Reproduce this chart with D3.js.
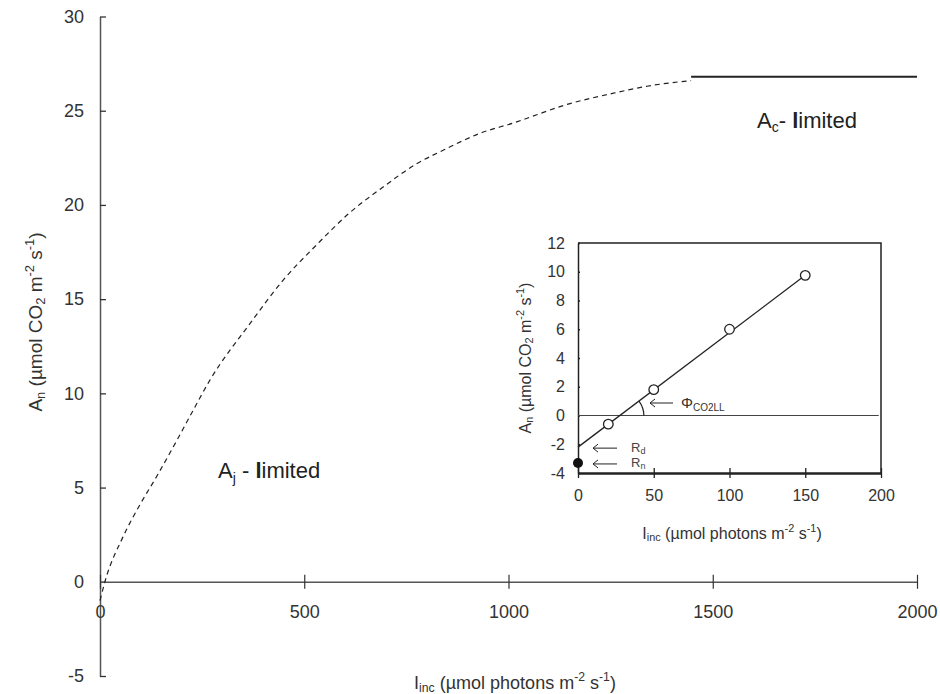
<!DOCTYPE html>
<html>
<head>
<meta charset="utf-8">
<script src="https://cdn.jsdelivr.net/npm/d3@7"></script>
<style>
  body { margin: 0; background: #fff; }
  svg { font-family: "Liberation Sans", Arial, sans-serif; }
</style>
</head>
<body>
<svg id="chart" width="940" height="694"></svg>
<script>
// main light-response curve (A_j limited part, dashed)
const curveI = [0, 12, 56, 98, 139, 188, 228, 269, 367, 448, 531, 612, 693, 776, 840, 930, 1012, 1146, 1257, 1339, 1447];
const curveA = [-1.0, 0, 2.37, 4.1, 5.6, 7.5, 9.1, 10.7, 13.7, 16.0, 17.9, 19.6, 20.95, 22.2, 22.9, 23.8, 24.35, 25.35, 25.93, 26.3, 26.6];
// A_c limited plateau
const plateauI = [1447, 2000];
const plateauA = [26.8, 26.8];

const mainXTicks = [0, 500, 1000, 1500, 2000];
const mainYTicks = [-5, 0, 5, 10, 15, 20, 25, 30];

// inset: low-light measurements
const insetI = [20, 50, 100, 150];
const insetA = [-0.6, 1.8, 6.0, 9.75];
const darkI = [0];
const darkA = [-3.3];
const fitI = [0, 150];
const fitA = [-2.2, 9.75];
const insetXTicks = [0, 50, 100, 150, 200];
const insetYTicks = [-4, -2, 0, 2, 4, 6, 8, 10, 12];

const svg = d3.select("#chart");
const ink = "#333";
const plain = (d) => String(d);

// text with sub/superscripts
function richText(sel, parts, size) {
  let shift = 0;
  parts.forEach((p) => {
    let want = 0, fs = size, txt = p.t;
    if (p.sub) { want = size * 0.15; fs = size * 0.68; txt = p.sub; }
    if (p.sup) { want = -size * 0.42; fs = size * 0.68; txt = p.sup; }
    sel.append("tspan").attr("font-size", fs).attr("dy", want - shift).text(txt);
    shift = want;
  });
  return sel;
}

const anLabel = [{ t: "A" }, { sub: "n" }, { t: " (\u00b5mol CO" }, { sub: "2" }, { t: " m" }, { sup: "-2" }, { t: " s" }, { sup: "-1" }, { t: ")" }];
const incLabel = [{ t: "I" }, { sub: "inc" }, { t: " (\u00b5mol photons m" }, { sup: "-2" }, { t: " s" }, { sup: "-1" }, { t: ")" }];

// ---------- main chart ----------
const x = d3.scaleLinear().domain([0, 2000]).range([100, 917]);
const y = d3.scaleLinear().domain([-5, 30]).range([676, 16.5]);

const yAxis = d3.axisLeft(y).tickValues(mainYTicks).tickFormat(plain).tickSizeInner(6).tickSizeOuter(0).tickPadding(10);
const gy = svg.append("g").attr("transform", `translate(${x(0)},0)`).call(yAxis);
gy.selectAll(".tick line").attr("x2", 6);
gy.select(".domain").attr("stroke", "#555").attr("stroke-width", 1.5);
gy.selectAll(".tick line").attr("stroke", "#333").attr("stroke-width", 1.3);
gy.selectAll("text").attr("font-size", 18).attr("fill", ink).attr("font-family", "Liberation Sans");

const xAxis = d3.axisBottom(x).tickValues(mainXTicks).tickFormat(plain).tickSizeInner(7).tickSizeOuter(0).tickPadding(16);
const gx = svg.append("g").attr("transform", `translate(0,${y(0)})`).call(xAxis);
gx.selectAll(".tick line").attr("y1", -7).attr("stroke", "#333").attr("stroke-width", 1.2);
gx.select(".domain").attr("stroke", "#555").attr("stroke-width", 1.5);
gx.selectAll("text").attr("font-size", 18).attr("fill", ink).attr("font-family", "Liberation Sans");

const curveData = curveI.map((d, i) => ({ i: d, a: curveA[i] }));
svg.append("path")
  .datum(curveData)
  .attr("fill", "none")
  .attr("stroke", "#222")
  .attr("stroke-width", 1.2)
  .attr("stroke-dasharray", "5,4")
  .attr("d", d3.line().x((d) => x(d.i)).y((d) => y(d.a)).curve(d3.curveMonotoneX));

const plateauData = plateauI.map((d, i) => ({ i: d, a: plateauA[i] }));
svg.append("path")
  .datum(plateauData)
  .attr("fill", "none")
  .attr("stroke", "#222")
  .attr("stroke-width", 2)
  .attr("d", d3.line().x((d) => x(d.i)).y((d) => y(d.a)));

// region labels
const aj = svg.append("text").attr("x", 218).attr("y", 478).attr("fill", "#222").attr("font-size", 22);
aj.append("tspan").attr("font-size", 22).text("A");
aj.append("tspan").attr("font-size", 14).attr("dy", 5).text("j");
aj.append("tspan").attr("font-size", 22).attr("dy", -5).text(" - ");
aj.append("tspan").attr("font-size", 22).attr("font-weight", "bold").text("l");
aj.append("tspan").attr("font-size", 22).text("imited");

const ac = svg.append("text").attr("x", 757).attr("y", 128).attr("fill", "#222").attr("font-size", 22);
ac.append("tspan").attr("font-size", 22).text("A");
ac.append("tspan").attr("font-size", 14).attr("dy", 4).text("c");
ac.append("tspan").attr("font-size", 22).attr("dy", -4).text("- ");
ac.append("tspan").attr("font-size", 22).attr("font-weight", "bold").text("l");
ac.append("tspan").attr("font-size", 22).text("imited");

// axis titles
richText(svg.append("text").attr("text-anchor", "middle").attr("fill", ink).attr("font-size", 19)
  .attr("transform", "translate(42,322) rotate(-90)"), anLabel, 19);
richText(svg.append("text").attr("text-anchor", "middle").attr("fill", ink).attr("font-size", 18)
  .attr("x", 515).attr("y", 689), incLabel, 18);

// ---------- inset ----------
const xi = d3.scaleLinear().domain([0, 200]).range([578, 881]);
const yi = d3.scaleLinear().domain([-4, 12]).range([473, 243]);

// frame top and right
svg.append("path")
  .attr("d", `M${xi(0)},${yi(12)}H${xi(200)}V${yi(-4)}`)
  .attr("fill", "none").attr("stroke", "#222").attr("stroke-width", 1.5);

const gyi = svg.append("g").attr("transform", `translate(${xi(0)},0)`)
  .call(d3.axisLeft(yi).tickValues(insetYTicks).tickFormat(plain).tickSizeInner(6).tickSizeOuter(0).tickPadding(7));
gyi.select(".domain").attr("stroke", "#222").attr("stroke-width", 1.5);
gyi.selectAll(".tick line").attr("x2", 2).attr("stroke", "#222").attr("stroke-width", 1.3);
gyi.selectAll("text").attr("font-size", 16).attr("fill", ink).attr("font-family", "Liberation Sans");

const gxi = svg.append("g").attr("transform", `translate(0,${yi(-4)})`)
  .call(d3.axisBottom(xi).tickValues(insetXTicks).tickFormat(plain).tickSizeInner(5).tickSizeOuter(0).tickPadding(12));
gxi.select(".domain").attr("stroke", "#222").attr("stroke-width", 2.5);
gxi.selectAll(".tick line").attr("y1", -5).attr("stroke", "#222").attr("stroke-width", 1.3);
gxi.selectAll("text").attr("font-size", 16).attr("fill", ink).attr("font-family", "Liberation Sans");

// zero line
svg.append("line")
  .attr("x1", xi(0)).attr("x2", xi(198.5))
  .attr("y1", yi(0)).attr("y2", yi(0))
  .attr("stroke", "#444").attr("stroke-width", 1);

// fitted line
svg.append("line")
  .attr("x1", xi(fitI[0])).attr("y1", yi(fitA[0]))
  .attr("x2", xi(fitI[1])).attr("y2", yi(fitA[1]))
  .attr("stroke", "#222").attr("stroke-width", 1.3);

// angle arc at the x-intercept
const slope = (fitA[1] - fitA[0]) / (fitI[1] - fitI[0]);
const xInt = -fitA[0] / slope;
const cx = xi(xInt), cy = yi(0);
const ang = Math.atan2(yi(0) - yi(slope * 10), xi(xInt + 10) - xi(xInt));
const r = 24;
svg.append("path")
  .attr("d", `M${cx + r},${cy} A${r},${r} 0 0 0 ${cx + r * Math.cos(ang)},${cy - r * Math.sin(ang)}`)
  .attr("fill", "none").attr("stroke", "#222").attr("stroke-width", 1.2);

// points
svg.selectAll("circle.open")
  .data(insetI.map((d, i) => ({ i: d, a: insetA[i] })))
  .enter().append("circle")
  .attr("class", "open")
  .attr("cx", (d) => xi(d.i)).attr("cy", (d) => yi(d.a)).attr("r", 4.8)
  .attr("fill", "#fff").attr("stroke", "#222").attr("stroke-width", 1.3);

svg.selectAll("circle.dark")
  .data(darkI.map((d, i) => ({ i: d, a: darkA[i] })))
  .enter().append("circle")
  .attr("class", "dark")
  .attr("cx", (d) => xi(d.i)).attr("cy", (d) => yi(d.a)).attr("r", 5)
  .attr("fill", "#111");

// arrows
function arrow(x1, x2, yy) {
  svg.append("path")
    .attr("d", `M${x2},${yy}H${x1}M${x1 + 5},${yy - 4}L${x1},${yy}L${x1 + 5},${yy + 4}`)
    .attr("fill", "none").attr("stroke", "#222").attr("stroke-width", 1);
}
arrow(593, 617, yi(fitA[0]) + 1);
arrow(593, 617, yi(darkA[0]) + 1);
arrow(650, 673, 403);

const rd = svg.append("text").attr("x", 631).attr("y", 452).attr("fill", "#444").attr("font-size", 13);
rd.append("tspan").attr("font-size", 13).text("R");
rd.append("tspan").attr("font-size", 9).attr("dy", 2).text("d");
const rn = svg.append("text").attr("x", 631).attr("y", 467).attr("fill", "#444").attr("font-size", 13);
rn.append("tspan").attr("font-size", 13).text("R");
rn.append("tspan").attr("font-size", 9).attr("dy", 2).text("n");
const phi = svg.append("text").attr("x", 681).attr("y", 408).attr("fill", "#333").attr("font-size", 15);
phi.append("tspan").attr("font-size", 15).text("\u03a6");
phi.append("tspan").attr("font-size", 10).attr("dy", 3).text("CO2LL");

// inset axis titles
richText(svg.append("text").attr("text-anchor", "middle").attr("fill", ink).attr("font-size", 16)
  .attr("transform", "translate(531,358) rotate(-90)"), anLabel, 16);
richText(svg.append("text").attr("text-anchor", "middle").attr("fill", ink).attr("font-size", 16)
  .attr("x", 732).attr("y", 539), incLabel, 16);
</script>
</body>
</html>
